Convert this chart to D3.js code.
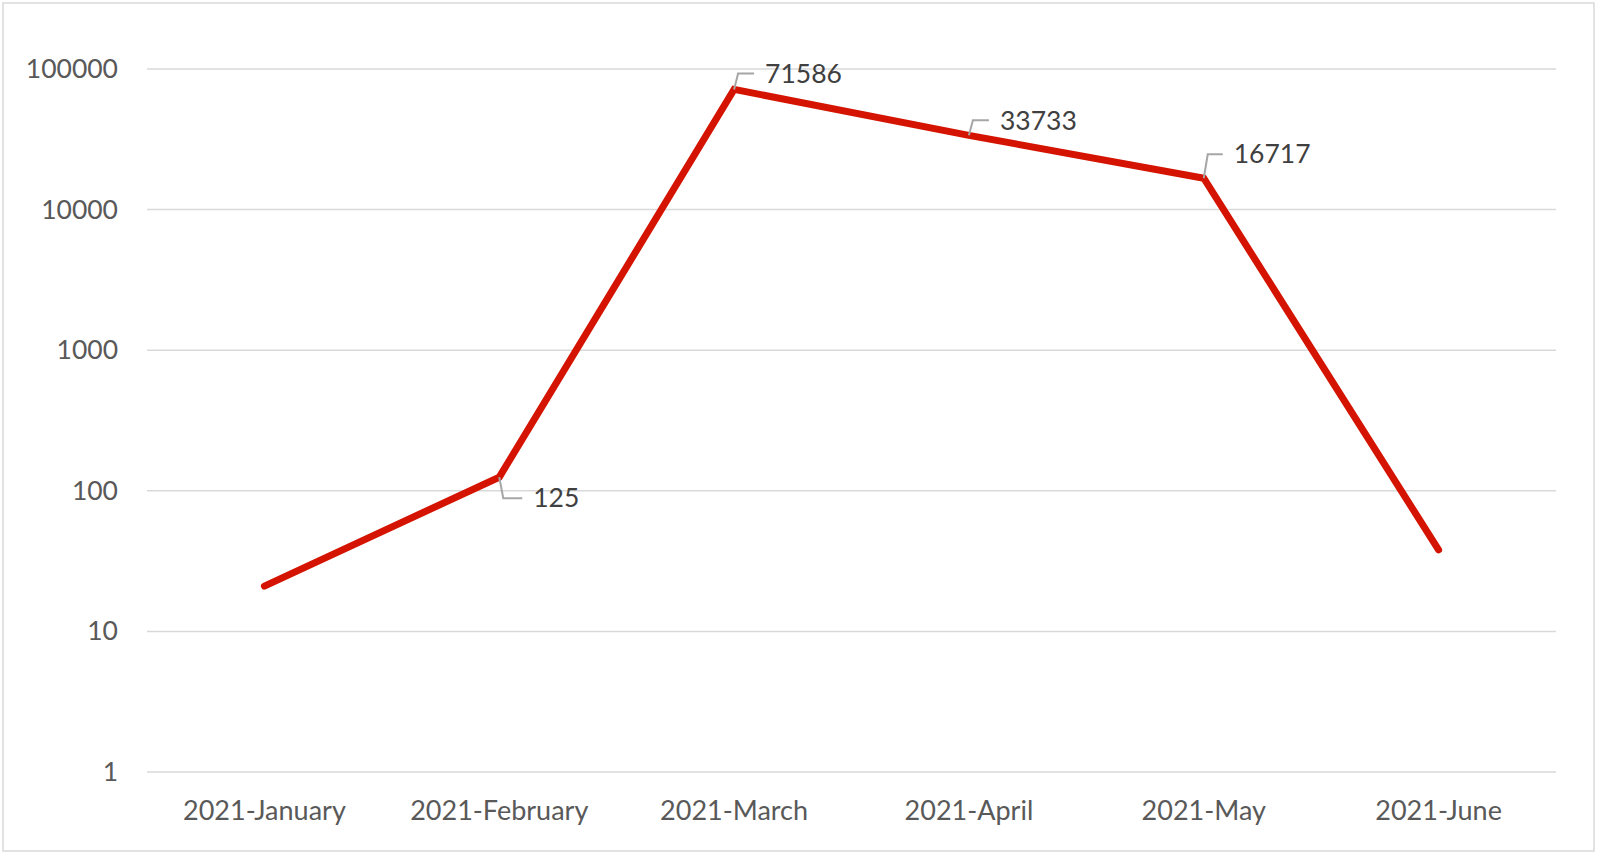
<!DOCTYPE html>
<html>
<head>
<meta charset="utf-8">
<script src="https://cdn.jsdelivr.net/npm/d3@7"></script>
<style>
  html, body { margin: 0; padding: 0; background: #fff; }
  svg { display: block; }
</style>
</head>
<body>
<svg id="chart" width="1600" height="856"></svg>
<script>
// ---- data ----
const categories = ["2021-January", "2021-February", "2021-March", "2021-April", "2021-May", "2021-June"];
const values = [21, 125, 71586, 33733, 16717, 38];
const yTicks = [1, 10, 100, 1000, 10000, 100000];
// which points carry a data label
const labelled = [false, true, true, true, true, false];

// ---- layout ----
const W = 1600, H = 856;
const plot = { left: 147, right: 1556, top: 69, bottom: 772 };
const font = "Lato, 'Open Sans', sans-serif";

const svg = d3.select("#chart");

// outer frame
svg.append("rect")
  .attr("x", 3).attr("y", 3)
  .attr("width", 1591).attr("height", 848)
  .attr("fill", "#fff")
  .attr("stroke", "#D9D9D9").attr("stroke-width", 1.5);

const x = d3.scaleBand().domain(categories).range([plot.left, plot.right]).padding(0);
const y = d3.scaleLog().domain([1, 100000]).range([plot.bottom, plot.top]);

// gridlines
svg.append("g").selectAll("line").data(yTicks).join("line")
  .attr("x1", plot.left).attr("x2", plot.right)
  .attr("y1", d => y(d)).attr("y2", d => y(d))
  .attr("stroke", "#D9D9D9").attr("stroke-width", 1.5);

// y axis labels
const yAxis = d3.axisLeft(y).tickValues(yTicks).tickFormat(d3.format("d")).tickSize(0).tickPadding(0);
const gy = svg.append("g").attr("transform", `translate(${118},0)`).call(yAxis);
gy.select(".domain").remove();
gy.selectAll("text")
  .attr("font-family", font).attr("font-size", 26.5).attr("fill", "#595959")
  .attr("dy", "0.32em");

// x axis labels
const xAxis = d3.axisBottom(x).tickSize(0).tickPadding(0);
const gx = svg.append("g").attr("transform", `translate(0,${plot.bottom})`).call(xAxis);
gx.select(".domain").remove();
gx.selectAll("text")
  .attr("font-family", font).attr("font-size", 27).attr("fill", "#595959")
  .attr("dy", 0).attr("y", 48);

// line
const pts = categories.map((c, i) => ({ c, v: values[i], i }));
const line = d3.line().x(d => x(d.c) + x.bandwidth() / 2).y(d => y(d.v));
svg.append("path")
  .datum(pts)
  .attr("d", line)
  .attr("fill", "none")
  .attr("stroke", "#D41300")
  .attr("stroke-width", 7)
  .attr("stroke-linejoin", "miter")
  .attr("stroke-linecap", "round");

// data labels with leader lines (label offset relative to the point)
const labelOffset = {
  1: { dx: 34, dy: 21 },
  2: { dx: 31, dy: -16 },
  3: { dx: 31, dy: -15 },
  4: { dx: 30, dy: -24 }
};
const lg = svg.append("g");
pts.filter(d => labelled[d.i]).forEach(d => {
  const px = x(d.c) + x.bandwidth() / 2, py = y(d.v);
  const o = labelOffset[d.i];
  const ly = py + o.dy;
  lg.append("polyline")
    .attr("points", `${px},${py} ${px + 4},${ly} ${px + o.dx - 11},${ly}`)
    .attr("fill", "none").attr("stroke", "#A6A6A6").attr("stroke-width", 2);
  lg.append("text")
    .attr("x", px + o.dx).attr("y", ly)
    .attr("dy", "0.35em")
    .attr("font-family", font).attr("font-size", 26.5).attr("fill", "#404040")
    .text(d.v);
});
</script>
</body>
</html>
